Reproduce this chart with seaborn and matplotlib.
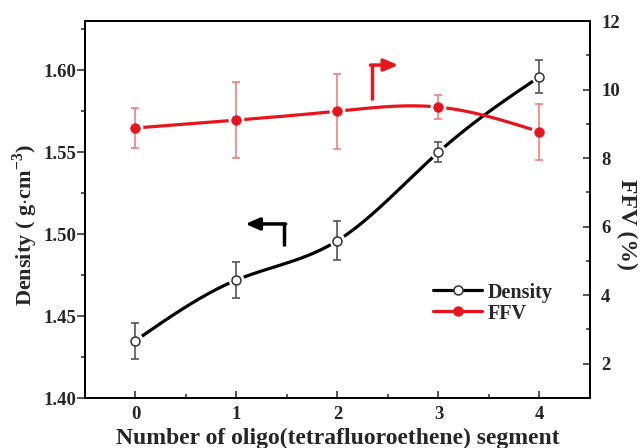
import numpy as np
import pandas as pd
import seaborn as sns
import matplotlib
matplotlib.use("Agg")
import matplotlib.pyplot as plt
from matplotlib.lines import Line2D

# Measured values per number of oligo(tetrafluoroethene) segments
segments = [0, 1, 2, 3, 4]
density = [1.435, 1.472, 1.496, 1.550, 1.596]
density_err = [0.011, 0.011, 0.012, 0.006, 0.010]
ffv = [8.88, 9.11, 9.37, 9.49, 8.77]
ffv_err = [0.57, 1.12, 1.09, 0.36, 0.82]
xtick_labels = ["0", "1", "2", "3", "4"]


def natural_spline(x, y, n=200):
    """Natural cubic spline through (x, y), evaluated on a fine grid."""
    x = np.asarray(x, float)
    y = np.asarray(y, float)
    m = len(x)
    h = np.diff(x)
    A = np.zeros((m, m))
    r = np.zeros(m)
    A[0, 0] = A[-1, -1] = 1.0
    for i in range(1, m - 1):
        A[i, i - 1] = h[i - 1]
        A[i, i] = 2 * (h[i - 1] + h[i])
        A[i, i + 1] = h[i]
        r[i] = 6 * ((y[i + 1] - y[i]) / h[i] - (y[i] - y[i - 1]) / h[i - 1])
    M = np.linalg.solve(A, r)
    xs = np.linspace(x[0], x[-1], n)
    idx = np.clip(np.searchsorted(x, xs) - 1, 0, m - 2)
    x0, x1 = x[idx], x[idx + 1]
    hh = x1 - x0
    a = (x1 - xs) / hh
    b = (xs - x0) / hh
    ys = (a * y[idx] + b * y[idx + 1]
          + ((a ** 3 - a) * M[idx] + (b ** 3 - b) * M[idx + 1]) * hh ** 2 / 6)
    return xs, ys


sns.set_theme(style="ticks")
plt.rcParams["font.family"] = ["Liberation Serif", "DejaVu Serif"]
plt.rcParams["font.weight"] = "bold"
plt.rcParams["mathtext.fontset"] = "custom"
plt.rcParams["mathtext.rm"] = "Liberation Serif:bold"
plt.rcParams["mathtext.bf"] = "Liberation Serif:bold"

RED = "#e8141c"
RED_ERR = "#f08080"
GRAY_ERR = "#555555"

fig = plt.figure(figsize=(6.4, 4.48), dpi=100)
ax = fig.add_axes([0.1328, 0.1116, 0.789, 0.8414])
ax2 = ax.twinx()

df_d = pd.DataFrame({"x": segments, "y": density})
df_f = pd.DataFrame({"x": segments, "y": ffv})

# Density (left axis)
xs, ys = natural_spline(segments, density)
sns.lineplot(x=xs, y=ys, ax=ax, color="black", lw=2.3, zorder=2)
sns.scatterplot(data=df_d, x="x", y="y", ax=ax, s=130, color="white",
                edgecolor="none", zorder=3)
ax.errorbar(segments, density, yerr=density_err, fmt="none", ecolor=GRAY_ERR,
            elinewidth=1.2, capsize=3.2, capthick=1.2, zorder=4)
sns.scatterplot(data=df_d, x="x", y="y", ax=ax, s=42, color="white",
                edgecolor="#333333", linewidth=1.1, zorder=5)

# FFV (right axis)
xs, ys = natural_spline(segments, ffv)
sns.lineplot(x=xs, y=ys, ax=ax2, color=RED, lw=2.3, zorder=2)
sns.scatterplot(data=df_f, x="x", y="y", ax=ax2, s=130, color="white",
                edgecolor="none", zorder=3)
ax2.errorbar(segments, ffv, yerr=ffv_err, fmt="none", ecolor=RED_ERR,
             elinewidth=1.2, capsize=3.2, capthick=1.2, zorder=4)
sns.scatterplot(data=df_f, x="x", y="y", ax=ax2, s=48, color=RED,
                edgecolor=RED, linewidth=0.5, zorder=5)

# Axis-indicating arrows
ax.plot([1.475, 1.475], [1.4927, 1.5062], color="black", lw=2.5,
        solid_capstyle="butt", zorder=6)
ax.annotate("", xy=(1.087, 1.5062), xytext=(1.487, 1.5062),
            arrowprops=dict(arrowstyle="-|>,head_length=0.7,head_width=0.3",
                            color="black", lw=2.5, shrinkA=0, shrinkB=0),
            zorder=6)
ax2.plot([2.339, 2.339], [9.695, 10.716], color=RED, lw=2.5,
         solid_capstyle="butt", zorder=6)
ax2.annotate("", xy=(2.602, 10.716), xytext=(2.327, 10.716),
             arrowprops=dict(arrowstyle="-|>,head_length=0.7,head_width=0.3",
                             color=RED, lw=2.5, shrinkA=0, shrinkB=0),
             zorder=6)

# Axes limits and ticks
ax.set_xlim(-0.5, 4.5)
ax.set_ylim(1.40, 1.63)
ax2.set_ylim(1, 12)
ax.set_xticks(segments)
ax.set_xticklabels(xtick_labels)
ax.set_xticks(np.arange(-0.5, 4.6, 1.0), minor=True)
ax.set_yticks([1.40, 1.45, 1.50, 1.55, 1.60])
ax.set_yticklabels(["1.40", "1.45", "1.50", "1.55", "1.60"])
ax.set_yticks(np.arange(1.425, 1.63, 0.05), minor=True)
ax2.set_yticks([2, 4, 6, 8, 10, 12])
ax2.set_yticks([3, 5, 7, 9, 11], minor=True)

ax.tick_params(axis="x", which="major", direction="in", length=5, width=1.1,
               labelsize=13.5, pad=6)
ax.tick_params(axis="x", which="minor", direction="in", length=3, width=1.1)
ax.tick_params(axis="y", which="major", direction="out", length=5.5, width=1.1,
               labelsize=13.5, pad=0.8)
ax.tick_params(axis="y", which="minor", direction="out", length=3, width=1.1)
ax2.tick_params(axis="y", which="major", direction="in", length=5, width=1.1,
                labelsize=13.5, pad=8)
ax2.tick_params(axis="y", which="minor", direction="in", length=3, width=1.1)
for a in (ax, ax2):
    for s in a.spines.values():
        s.set_linewidth(1.3)
        s.set_color("black")
    for lbl in a.get_xticklabels() + a.get_yticklabels():
        lbl.set_fontweight("bold")

ax.set_xlabel("Number of oligo(tetrafluoroethene) segment", fontsize=17,
              fontweight="bold", labelpad=3)
ax.set_ylabel(r"Density ( g$\cdot$cm$^{-3}$)", fontsize=16,
              fontweight="bold", va="center", ha="center")
ax.yaxis.set_label_coords(-0.118, 0.46)
ax2.set_ylabel("FFV (%)", fontsize=17, fontweight="bold", rotation=270,
               va="center", ha="center")
ax2.yaxis.set_label_coords(1.072, 0.46)

handles = [
    Line2D([], [], color="black", lw=2.3, marker="o", markersize=6.5,
           markerfacecolor="white", markeredgecolor="#333333",
           markeredgewidth=1.1),
    Line2D([], [], color=RED, lw=2.3, marker="o", markersize=6.5,
           markerfacecolor=RED, markeredgecolor=RED),
]
leg = ax.legend(handles, ["Density", "FFV"], loc="center left",
                bbox_to_anchor=(0.69, 0.252), frameon=False, fontsize=14.5,
                handlelength=2.4, handletextpad=0.3, labelspacing=0.05,
                borderpad=0, borderaxespad=0)
for t in leg.get_texts():
    t.set_fontweight("bold")

fig.savefig("out.png", dpi=100, facecolor="white")
